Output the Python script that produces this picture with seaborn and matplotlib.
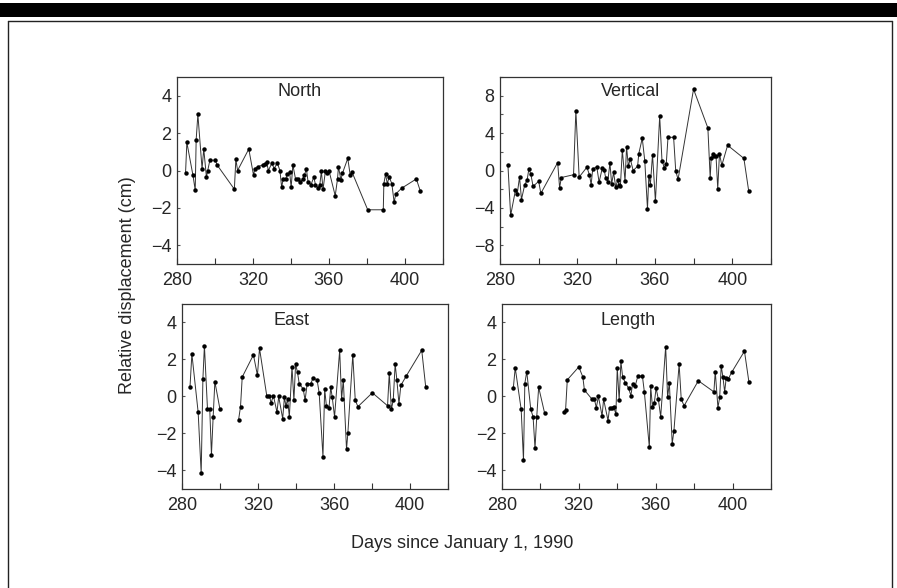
import numpy as np
import pandas as pd
import matplotlib
matplotlib.use("Agg")
import matplotlib.pyplot as plt
import seaborn as sns
from matplotlib.ticker import MultipleLocator
from matplotlib.patches import Rectangle
from matplotlib.lines import Line2D

# ---- data ----
north_day = [284.5, 285.2, 288.4, 289.6, 290.1, 291.0, 293.2, 294.1, 295.5, 296.2,
             297.3, 300.2, 301.1, 310.2, 311.0, 311.9, 317.8, 320.3, 321.0, 322.4,
             325.1, 326.2, 327.2, 328.1, 330.0, 331.1, 332.8, 334.2, 335.1, 335.9,
             337.2, 338.0, 339.3, 340.1, 341.0, 342.4, 343.8, 345.0, 346.2, 347.1,
             348.1, 349.0, 350.6, 352.0, 352.9, 354.3, 355.2, 356.0, 356.9, 358.1,
             359.0, 360.0, 363.3, 364.5, 365.0, 366.3, 367.1, 369.9, 371.2, 372.2,
             380.4, 388.6, 388.9, 389.8, 390.7, 391.7, 393.1, 394.3, 395.2, 398.2,
             406.0, 408.1]
north_val = [-0.15, 1.5, -0.25, -1.05, 1.65, 3.0, 0.1, 1.15, -0.35, 0.0,
             0.55, 0.55, 0.3, -1.0, 0.6, 0.0, 1.15, -0.25, 0.1, 0.2,
             0.3, 0.35, 0.45, 0.0, 0.4, 0.1, 0.4, 0.0, -0.9, -0.45,
             -0.45, -0.2, -0.1, -0.9, 0.3, -0.45, -0.45, -0.6, -0.45, -0.25,
             0.1, -0.6, -0.75, -0.35, -0.75, -0.95, -0.75, -0.05, -1.0, -0.05,
             -0.15, 0.0, -1.35, -0.45, 0.2, -0.5, -0.15, 0.65, -0.25, -0.1,
             -2.1, -2.1, -0.7, -0.2, -0.7, -0.35, -0.7, -1.7, -1.25, -0.95,
             -0.45, -1.1]

vert_day = [284.1, 285.5, 288.0, 288.9, 290.1, 291.1, 292.8, 294.0, 294.9, 295.9,
            297.1, 300.0, 301.1, 309.8, 310.8, 311.7, 318.0, 319.2, 320.9, 324.9,
            326.2, 327.1, 327.9, 330.0, 331.2, 332.9, 333.8, 334.6, 335.7, 336.8,
            337.7, 338.7, 339.8, 340.8, 341.5, 342.2, 343.2, 344.6, 345.4, 346.3,
            347.3, 348.8, 351.1, 351.7, 353.5, 354.8, 356.2, 356.9, 357.7, 358.8,
            360.3, 362.5, 363.7, 364.9, 365.9, 366.8, 369.7, 370.8, 372.0, 380.0,
            387.4, 388.6, 389.1, 390.0, 390.8, 391.6, 392.5, 393.4, 394.6, 397.6,
            406.0, 408.5]
vert_val = [0.6, -4.8, -2.1, -2.5, -0.7, -3.1, -1.5, -1.05, 0.15, -0.35,
            -1.7, -1.15, -2.45, 0.85, -1.85, -0.75, -0.45, 6.4, -0.7, 0.35,
            -0.45, -1.5, 0.15, 0.4, -1.25, 0.3, 0.1, -0.8, -1.2, 0.8,
            -1.45, -0.2, -1.8, -1.0, -1.6, -1.7, 2.2, -1.15, 2.55, 0.45,
            1.25, 0.0, 0.45, 1.8, 3.45, 1.05, -4.1, -0.55, -1.5, 1.7,
            -3.3, 5.8, 1.05, 0.3, 0.7, 3.55, 3.55, -0.05, -0.95, 8.7,
            4.55, -0.8, 1.3, 1.8, 1.5, 1.6, -1.95, 1.8, 0.55, 2.7,
            1.3, -2.2]

east_day = [284.2, 285.2, 288.5, 290.1, 291.0, 291.8, 293.4, 294.6, 295.5, 296.4,
            297.3, 300.0, 309.8, 310.8, 311.7, 317.6, 319.7, 320.8, 324.6, 326.0,
            326.9, 328.1, 330.0, 330.9, 333.0, 333.9, 334.7, 335.6, 336.5, 337.9,
            338.9, 339.8, 340.8, 341.7, 343.8, 344.8, 345.9, 347.8, 349.0, 351.1,
            352.2, 354.2, 355.1, 356.0, 357.4, 358.3, 359.1, 360.3, 363.0, 364.0,
            364.9, 366.6, 367.3, 369.9, 371.2, 372.6, 380.2, 388.2, 389.1, 390.2,
            391.2, 392.2, 393.1, 394.2, 395.2, 398.0, 406.2, 408.3]
east_val = [0.5, 2.3, -0.85, -4.15, 0.95, 2.75, -0.65, -0.65, -3.15, -1.1,
            0.8, -0.7, -1.25, -0.55, 1.05, 2.25, 1.15, 2.6, 0.05, 0.05,
            -0.35, 0.05, -0.85, 0.0, -1.2, -0.05, -0.5, -0.15, -1.1, 1.6,
            -0.2, 1.75, 1.3, 0.7, 0.4, -0.2, 0.7, 0.7, 1.0, 0.9,
            0.2, -3.25, 0.4, -0.5, -0.6, 0.5, -0.05, -1.1, 2.5, -0.15,
            0.9, -2.85, -2.0, 2.25, -0.2, -0.55, 0.2, -0.5, 1.25, -0.7,
            -0.2, 1.75, 0.9, -0.4, 0.6, 1.1, 2.5, 0.5]

length_day = [285.9, 286.9, 290.0, 291.2, 291.9, 292.9, 295.0, 296.2, 297.2, 298.1,
              299.1, 302.2, 312.1, 313.1, 314.0, 320.0, 322.1, 322.9, 326.9, 328.1,
              329.1, 330.2, 332.1, 332.9, 335.2, 336.0, 337.2, 338.1, 339.3, 340.0,
              341.0, 341.9, 342.8, 344.2, 345.9, 347.1, 348.0, 349.3, 350.7, 353.1,
              354.1, 356.7, 357.4, 358.3, 359.3, 360.2, 361.4, 362.6, 365.2, 366.2,
              367.1, 368.6, 369.5, 372.2, 373.3, 374.8, 382.2, 390.3, 391.0, 392.4,
              393.3, 394.1, 395.0, 395.9, 396.7, 397.8, 399.5, 406.2, 408.5]
length_val = [0.45, 1.55, -0.7, -3.45, 0.7, 1.35, -0.7, -1.1, -2.8, -1.1,
              0.5, -0.9, -0.85, -0.75, 0.9, 1.6, 1.05, 0.35, -0.15, -0.15,
              -0.6, 0.0, -1.05, -0.15, -1.3, -0.6, -0.6, -0.55, -0.95, 1.55,
              -0.2, 1.9, 1.05, 0.75, 0.45, 0.05, 0.7, 0.55, 1.1, 1.1,
              0.25, -2.75, 0.55, -0.55, -0.35, 0.45, -0.15, -1.1, 2.7, -0.05,
              0.75, -2.55, -1.85, 1.75, -0.15, -0.5, 0.85, 0.25, 1.35, -0.6,
              -0.05, 1.65, 1.05, 0.25, 1.0, 0.95, 1.3, 2.45, 0.8]

gap_day = 305  # East and Length have no line across this gap

panels = [
    ("North", north_day, north_val, False, (-5, 5), 2, None, [0.1973, 0.551, 0.2965, 0.318], (0.46, 0.925)),
    ("Vertical", vert_day, vert_val, False, (-10, 10), 4, 2, [0.5574, 0.551, 0.3021, 0.318], (0.48, 0.925)),
    ("East", east_day, east_val, True, (-5, 5), 2, None, [0.2029, 0.1684, 0.2965, 0.3146], (0.41, 0.913)),
    ("Length", length_day, length_val, True, (-5, 5), 2, None, [0.5596, 0.1684, 0.2999, 0.3146], (0.47, 0.913)),
]

sns.set_theme(style="white")
plt.rcParams["font.family"] = ["Liberation Sans", "DejaVu Sans"]

fig = plt.figure(figsize=(8.97, 5.88), dpi=100)

for name, days, vals, has_gap, ylim, ymaj, ymin, rect, tpos in panels:
    ax = fig.add_axes(rect)
    df = pd.DataFrame({"day": days, "val": vals})
    df["seg"] = (df["day"] > gap_day).astype(int) if has_gap else 0
    sns.lineplot(data=df, x="day", y="val", units="seg", estimator=None,
                 color="#333333", linewidth=0.7, marker="o", markersize=3.2,
                 markeredgewidth=0, markerfacecolor="black", ax=ax)
    ax.set_xlim(280, 420)
    ax.set_ylim(*ylim)
    ax.xaxis.set_major_locator(MultipleLocator(40))
    ax.xaxis.set_minor_locator(MultipleLocator(20))
    ax.yaxis.set_major_locator(MultipleLocator(ymaj))
    if ymin:
        ax.yaxis.set_minor_locator(MultipleLocator(ymin))
    ax.set_xticks([280, 320, 360, 400])
    ax.tick_params(axis="x", which="both", direction="in", length=4, width=0.8,
                   color="#333333", labelsize=13, pad=6, bottom=True)
    ax.tick_params(axis="y", which="both", direction="in", length=2.5, width=0.8,
                   color="#555555", labelsize=13, pad=4, left=True)
    ax.set_xlabel("")
    ax.set_ylabel("")
    for sp in ax.spines.values():
        sp.set_visible(True)
        sp.set_color("#333333")
        sp.set_linewidth(0.9)
    ax.text(tpos[0], tpos[1], name, transform=ax.transAxes, ha="center",
            va="center", fontsize=13)

fig.text(128 / 897, 1 - 285 / 588, "Relative displacement (cm)", rotation=90,
         ha="center", va="center", fontsize=13)
fig.text(462 / 897, 1 - 543 / 588, "Days since January 1, 1990",
         ha="center", va="center", fontsize=13)

# heavy rule and thin frame of the figure box
fig.add_artist(Rectangle((0, 1 - 17 / 588), 1, 14 / 588, transform=fig.transFigure,
                         facecolor="black", edgecolor="none"))
top = 1 - 21 / 588
x0, x1 = 8 / 897, 892 / 897
fig.add_artist(Line2D([x0, x1], [top, top], transform=fig.transFigure, color="#222222", lw=1))
fig.add_artist(Line2D([x0, x0], [0, top], transform=fig.transFigure, color="#222222", lw=1))
fig.add_artist(Line2D([x1, x1], [0, top], transform=fig.transFigure, color="#222222", lw=1))

fig.savefig("out.png", dpi=100)
